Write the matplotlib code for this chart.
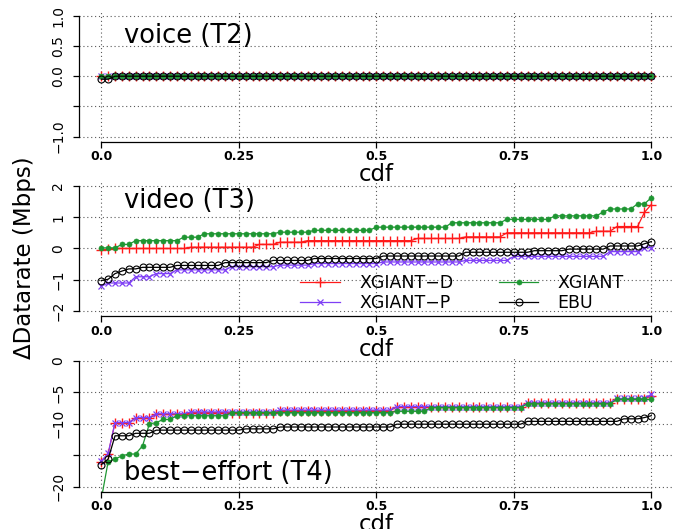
import numpy as np
import matplotlib.pyplot as plt

plt.rcParams['font.family'] = ['DejaVu Sans']

# cdf positions of the 81 samples
cdf = np.linspace(0, 1, 81)

# each series: step levels read off the chart and how many samples sit on each level
# voice (T2)
voice_d_lv, voice_d_n = [0.0], [81]
voice_p_lv, voice_p_n = [0.0], [81]
voice_g_lv, voice_g_n = [0.0], [81]
voice_e_lv, voice_e_n = [-0.05, 0.0], [2, 79]

# video (T3)
video_d_lv = [-0.06, -0.03, 0.0, 0.04, 0.13, 0.2, 0.25, 0.32, 0.37, 0.5, 0.55, 0.7, 1.15, 1.4]
video_d_n = [1, 1, 11, 10, 3, 4, 16, 7, 6, 13, 3, 4, 1, 1]
video_p_lv = [-1.2, -1.1, -0.9, -0.8, -0.68, -0.58, -0.53, -0.48, -0.43, -0.38, -0.25, -0.1, 0.03]
video_p_n = [1, 4, 3, 3, 8, 7, 5, 10, 12, 7, 14, 5, 2]
video_g_lv = [0.02, 0.13, 0.25, 0.36, 0.47, 0.52, 0.58, 0.68, 0.82, 0.93, 1.04, 1.16, 1.26, 1.42, 1.62]
video_g_n = [3, 2, 7, 3, 11, 5, 9, 11, 8, 7, 7, 1, 4, 2, 1]
video_e_lv = [-1.02, -0.98, -0.8, -0.72, -0.65, -0.6, -0.54, -0.45, -0.38, -0.32, -0.24, -0.12,
              -0.07, -0.02, 0.08, 0.15, 0.22]
video_e_n = [1, 1, 1, 1, 2, 5, 7, 7, 6, 10, 12, 10, 5, 6, 5, 1, 1]

# best-effort (T4)
be_d_lv = [-16.0, -14.8, -9.8, -9.1, -8.5, -8.2, -7.9, -7.3, -6.7, -6.0, -5.6]
be_d_n = [1, 1, 3, 3, 5, 13, 17, 19, 13, 5, 1]
be_p_lv = [-15.9, -14.7, -9.8, -9.0, -8.4, -8.1, -7.8, -7.25, -6.65, -5.95, -5.3]
be_p_n = [1, 1, 3, 3, 5, 13, 17, 19, 13, 5, 1]
be_g_lv = [-22.0, -16.0, -15.6, -15.1, -14.8, -13.5, -10.0, -9.8, -9.3, -8.7, -8.2, -8.0, -7.4,
           -6.8, -6.1]
be_g_n = [1, 1, 1, 1, 2, 1, 1, 1, 2, 8, 24, 5, 14, 13, 6]
be_e_lv = [-16.5, -15.6, -11.9, -11.5, -11.0, -10.8, -10.5, -10.05, -9.6, -9.2, -9.0, -8.7]
be_e_n = [1, 1, 3, 3, 13, 5, 17, 19, 14, 3, 1, 1]

names = ['XGIANT\u2212D', 'XGIANT\u2212P', 'XGIANT', 'EBU']
titles = ['voice (T2)', 'video (T3)', 'best\u2212effort (T4)']
xticks = [0, 0.25, 0.5, 0.75, 1.0]
xlabels = ['0.0', '0.25', '0.5', '0.75', '1.0']

col_d = '#ff1a1a'
col_p = '#7f3ff5'
col_g = '#1e9632'


def steps(lv, n):
    return np.repeat(lv, n)


def draw(ax, d, p, g, e):
    kw = dict(lw=0.9, clip_on=True)
    ax.plot(cdf, d, color=col_d, marker='+', ms=7, mew=1.0, label=names[0], **kw)
    ax.plot(cdf, p, color=col_p, marker='x', ms=5, mew=0.9, label=names[1], **kw)
    ax.plot(cdf, g, color=col_g, marker='o', ms=3.6, mew=0.5, label=names[2], **kw)
    ax.plot(cdf, e, color='black', marker='o', ms=5, mew=0.8, mfc='none', label=names[3], **kw)


def setup(ax, lo, hi, yticks, ylabels):
    pad = 0.04 * (hi - lo)
    ax.set_xlim(-0.04, 1.04)
    ax.set_ylim(lo - pad, hi + pad)
    ax.spines['top'].set_visible(False)
    ax.spines['right'].set_visible(False)
    ax.spines['left'].set_bounds(lo, hi)
    ax.spines['bottom'].set_bounds(0, 1)
    for s in ['left', 'bottom']:
        ax.spines[s].set_linewidth(0.9)
    ax.set_xticks(xticks)
    ax.set_xticklabels(xlabels, fontweight='bold', fontsize=9)
    ax.set_yticks(yticks)
    ax.set_yticklabels(ylabels, rotation=90, va='center', ha='right', fontsize=10)
    ax.tick_params(axis='both', length=4.2, width=0.9)
    ax.tick_params(axis='x', pad=2)
    ax.tick_params(axis='y', pad=6)
    ax.grid(True, linestyle=(0, (1, 2.5)), color='0.35', linewidth=0.8)
    ax.set_axisbelow(True)
    ax.set_xlabel('cdf', fontsize=16.5, labelpad=0)


fig = plt.figure(figsize=(6.77, 5.29), dpi=100)
ax1 = fig.add_axes([0.1171, 0.7325, 0.8774, 0.2469])
ax2 = fig.add_axes([0.1171, 0.4021, 0.8774, 0.2563])
ax3 = fig.add_axes([0.1171, 0.0705, 0.8774, 0.2565])

draw(ax1, steps(voice_d_lv, voice_d_n), steps(voice_p_lv, voice_p_n),
     steps(voice_g_lv, voice_g_n), steps(voice_e_lv, voice_e_n))
setup(ax1, -1, 1, [-1, -0.5, 0, 0.5, 1], ['\u22121.0', '', '0.0', '0.5', '1.0'])
ax1.text(0.0753, 0.752, titles[0], transform=ax1.transAxes, fontsize=18.5, va='baseline')

draw(ax2, steps(video_d_lv, video_d_n), steps(video_p_lv, video_p_n),
     steps(video_g_lv, video_g_n), steps(video_e_lv, video_e_n))
setup(ax2, -2, 2, [-2, -1, 0, 1, 2], ['\u22122', '\u22121', '0', '1', '2'])
ax2.text(0.0753, 0.796, titles[1], transform=ax2.transAxes, fontsize=18.5, va='baseline')
ax2.legend(ncol=2, frameon=False, fontsize=12.5, loc='upper left',
           bbox_to_anchor=(0.372, 0.31), borderpad=0, borderaxespad=0,
           handlelength=2.3, handletextpad=1.1, columnspacing=2.6, labelspacing=0.1)

draw(ax3, steps(be_d_lv, be_d_n), steps(be_p_lv, be_p_n),
     steps(be_g_lv, be_g_n), steps(be_e_lv, be_e_n))
setup(ax3, -20, 0, [-20, -15, -10, -5, 0], ['\u221220', '', '\u221210', '\u22125', '0'])
ax3.text(0.0753, 0.086, titles[2], transform=ax3.transAxes, fontsize=18.5, va='baseline')

fig.text(0.036, 0.513, '\u0394Datarate (Mbps)', rotation=90, fontsize=16.5,
         ha='center', va='center')

fig.savefig('out.png', dpi=100)
